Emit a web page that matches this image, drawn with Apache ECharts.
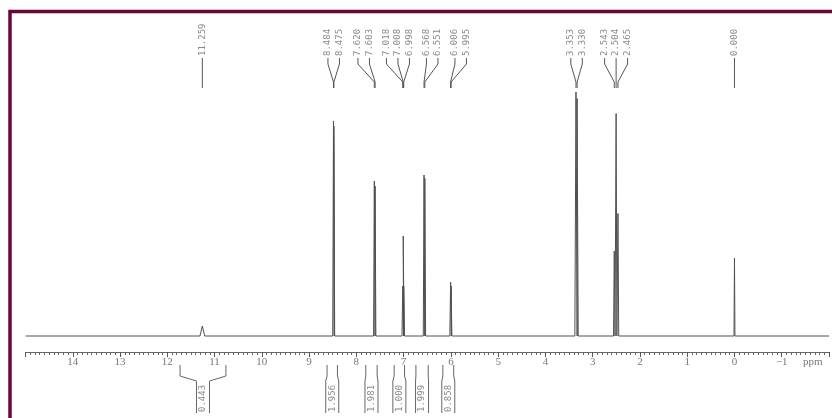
<!DOCTYPE html>
<html>
<head>
<meta charset="utf-8">
<script src="https://cdn.jsdelivr.net/npm/echarts@6/dist/echarts.min.js"></script>
<style>
  html, body { margin: 0; padding: 0; background: #fff; }
  #main { width: 832px; height: 418px; }
</style>
</head>
<body>
<div id="main"></div>
<script>
// 1H NMR peak list: chemical shift (ppm), intensity, multiplet group, line half-width (ppm)
const peakShifts  = [11.259, 8.484, 8.475, 7.620, 7.603, 7.018, 7.008, 6.998, 6.568, 6.551, 6.006, 5.995, 3.353, 3.330, 2.543, 2.504, 2.465, 0.000];
const peakHeights = [4, 86, 84, 62, 60, 20, 40, 20, 64.4, 63, 21.6, 20, 97.6, 95, 34, 89, 49, 31.2];
const peakGroups  = [0, 1, 1, 2, 2, 3, 3, 3, 4, 4, 5, 5, 6, 6, 7, 7, 7, 8];
const peakHalfWidths = [0.05, 0.016, 0.016, 0.016, 0.016, 0.016, 0.016, 0.016, 0.016, 0.016, 0.016, 0.016, 0.024, 0.024, 0.016, 0.016, 0.016, 0.01];

// Integral regions (ppm) and their values
const integralFrom   = [11.73, 8.62, 7.80, 7.20, 6.74, 6.17];
const integralTo     = [10.76, 8.40, 7.56, 6.98, 6.48, 5.94];
const integralLabels = ['0.443', '1.956', '1.981', '1.000', '1.999', '0.858'];

// Axis
const ppmMin = -2, ppmMax = 15;
const axisUnit = 'ppm';

// Build the spectrum trace from the peak list (baseline, then each line)
const trace = [[ppmMax, 0]];
peakShifts.forEach((s, i) => {
  const w = peakHalfWidths[i];
  trace.push([s + w, 0], [s, peakHeights[i]], [s - w, 0]);
});
trace.push([ppmMin, 0]);

const chart = echarts.init(document.getElementById('main'), null, { renderer: 'canvas' });

chart.setOption({
  animation: false,
  backgroundColor: '#ffffff',
  grid: { left: 25.5, right: -1, top: 61, bottom: 66, containLabel: false },
  xAxis: {
    type: 'value',
    inverse: true,
    min: ppmMin,
    max: ppmMax,
    interval: 1,
    axisLine: { show: true, onZero: false, lineStyle: { color: '#666', width: 1 } },
    axisTick: { show: true, length: 5, lineStyle: { color: '#555', width: 1 } },
    minorTick: { show: true, splitNumber: 10, length: 3, lineStyle: { color: '#666', width: 1 } },
    splitLine: { show: false },
    axisLabel: {
      margin: 5,
      color: '#777',
      fontFamily: 'Liberation Serif',
      fontSize: 11,
      formatter: v => (v === ppmMax || v === ppmMin) ? '' : (v < 0 ? '\u2212' + Math.abs(v) : String(v))
    }
  },
  yAxis: { type: 'value', min: -6.4, max: 110, show: false },
  series: [{
    type: 'line',
    data: trace,
    showSymbol: false,
    silent: true,
    clip: false,
    lineStyle: { color: '#505050', width: 1 }
  }]
});

// Peak label layout: labels of a multiplet sit side by side, neighbouring
// multiplets are pushed apart until none overlap.
function layoutPeakLabels(xs, groups) {
  const within = 11.5, between = 17;
  let blocks = [];
  groups.forEach((g, i) => {
    const last = blocks[blocks.length - 1];
    if (last && groups[last.idx[last.idx.length - 1]] === g) last.idx.push(i);
    else blocks.push({ idx: [i] });
  });
  function place(b) {
    const offs = [0];
    for (let k = 1; k < b.idx.length; k++) {
      const same = groups[b.idx[k]] === groups[b.idx[k - 1]];
      offs.push(offs[k - 1] + (same ? within : between));
    }
    const mean = b.idx.reduce((a, i) => a + xs[i], 0) / b.idx.length;
    const start = mean - offs[offs.length - 1] / 2;
    b.pos = offs.map(o => start + o);
  }
  blocks.forEach(place);
  let changed = true;
  while (changed) {
    changed = false;
    for (let k = 0; k < blocks.length - 1; k++) {
      const a = blocks[k], b = blocks[k + 1];
      if (b.pos[0] - a.pos[a.pos.length - 1] < between) {
        const m = { idx: a.idx.concat(b.idx) };
        place(m);
        blocks.splice(k, 2, m);
        changed = true;
        break;
      }
    }
  }
  const out = new Array(xs.length);
  blocks.forEach(b => b.idx.forEach((i, k) => { out[i] = b.pos[k]; }));
  return out;
}

function drawAnnotations() {
  const toX = v => chart.convertToPixel({ xAxisIndex: 0 }, v);
  const toY = v => chart.convertToPixel({ yAxisIndex: 0 }, v);
  const axisY = toY(-6.4);
  const elements = [];

  // Frame
  elements.push({
    type: 'rect', silent: true, z: 10,
    shape: { x: 10, y: 11.5, width: 900, height: 500 },
    style: { fill: null, stroke: '#6a0637', lineWidth: 3.5 }
  });

  // Peak shift labels with connector lines
  const peakX = peakShifts.map(toX);
  const labelX = layoutPeakLabels(peakX, peakGroups);
  peakShifts.forEach((s, i) => {
    const lx = labelX[i], px = peakX[i];
    elements.push({
      type: 'polyline', silent: true,
      shape: { points: [[lx, 58], [lx, 64], [px, 82], [px, 88]] },
      style: { stroke: '#555', lineWidth: 1, fill: null }
    });
    elements.push({
      type: 'text', silent: true,
      x: lx, y: 56, rotation: Math.PI / 2,
      style: {
        text: s.toFixed(3), x: 0, y: 0,
        align: 'left', verticalAlign: 'middle',
        fill: '#8a8a8a', font: '9px "DejaVu Sans Mono"'
      }
    });
  });

  // Integral brackets under the axis
  const boxHalf = 6.5;
  const topY = axisY + 13, bendY = axisY + 24, boxY = axisY + 29, botY = axisY + 61;
  integralFrom.forEach((f, i) => {
    const xl = toX(f), xr = toX(integralTo[i]);
    const cx = (xl + xr) / 2;
    [[xl, cx - boxHalf], [xr, cx + boxHalf]].forEach(([xa, xb]) => {
      elements.push({
        type: 'polyline', silent: true,
        shape: { points: [[xa, topY], [xa, bendY], [xb, boxY], [xb, botY]] },
        style: { stroke: '#666', lineWidth: 1, fill: null }
      });
    });
    elements.push({
      type: 'text', silent: true,
      x: cx, y: botY - 1, rotation: Math.PI / 2,
      style: {
        text: integralLabels[i], x: 0, y: 0,
        align: 'left', verticalAlign: 'middle',
        fill: '#8a8a8a', font: '9px "DejaVu Sans Mono"'
      }
    });
  });

  // Axis unit
  elements.push({
    type: 'text', silent: true,
    x: toX(-1.45), y: axisY + 10.5,
    style: {
      text: axisUnit, x: 0, y: 0, align: 'left', verticalAlign: 'middle',
      fill: '#777', font: '11px "Liberation Serif"'
    }
  });

  chart.setOption({ graphic: { elements } });
}

drawAnnotations();
</script>
</body>
</html>
